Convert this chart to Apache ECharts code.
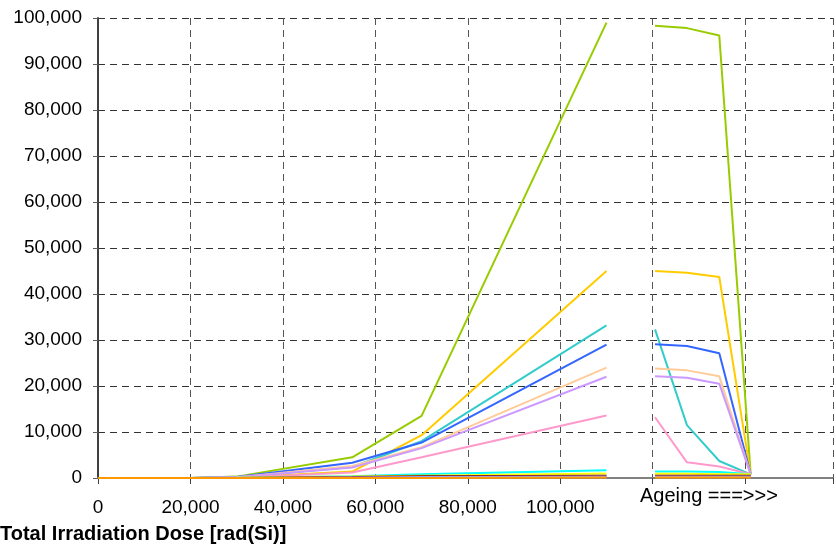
<!DOCTYPE html>
<html>
  <head>
    <meta charset="utf-8">
    <title>Total Irradiation Dose</title>
    <script src="https://cdn.jsdelivr.net/npm/echarts@6/dist/echarts.min.js"></script>
    <style>
      html, body { margin: 0; padding: 0; background: #fff; }
      #chart { width: 836px; height: 548px; }
    </style>
  </head>
  <body>
    <div id="chart"></div>
    <script>
      // x positions of the irradiation steps and of the ageing steps
      var doseX = [0, 20000, 30000, 55000, 70000, 110000];
      var ageX = [120500, 127400, 134400, 141200];

      var seriesNames = ['S1', 'S2', 'S3', 'S4', 'S5', 'S6', 'S7', 'S8', 'S9', 'S10', 'S11', 'S12'];
      var seriesColors = ['#99cc00', '#ffcc00', '#33cccc', '#3366ff', '#ffcc99', '#cc99ff',
                          '#ff99cc', '#00ffff', '#ffff00', '#800000', '#9999ff', '#ff9900'];

      // values during irradiation (one per doseX)
      var doseVals = [
        [0, 0, 300, 4500, 13500, 99000],
        [0, 0, 100, 1400, 9300, 45000],
        [0, 0, 200, 2400, 8000, 33200],
        [0, 0, 200, 3300, 7700, 29000],
        [0, 0, 150, 2600, 6700, 24000],
        [0, 0, 150, 2300, 6500, 22000],
        [0, 0, 50, 1200, 4500, 13600],
        [0, 0, 50, 400, 800, 1700],
        [0, 0, 50, 300, 500, 1000],
        [0, 0, 0, 200, 400, 500],
        [0, 0, 0, 100, 200, 300],
        [0, 0, 0, 0, 0, 100]
      ];
      // values during ageing (one per ageX)
      var ageVals = [
        [98300, 97800, 96200, 800],
        [45000, 44600, 43700, 800],
        [32300, 11500, 3700, 800],
        [29100, 28700, 27100, 800],
        [23800, 23400, 22100, 800],
        [22100, 21800, 20500, 800],
        [13200, 3400, 2500, 800],
        [1400, 1400, 1300, 800],
        [900, 900, 800, 800],
        [500, 500, 500, 500],
        [300, 300, 300, 300],
        [100, 100, 100, 100]
      ];

      var yTicks = { min: 0, max: 100000, interval: 10000 };
      var xTicks = { min: 0, max: 159000, interval: 20000, lastLabel: 100000 };

      var fontFamily = '"Liberation Sans", Arial, sans-serif';

      var series = seriesNames.map(function (name, i) {
        var data = [];
        doseX.forEach(function (x, k) { data.push([x, doseVals[i][k]]); });
        data.push([115000, null]); // break between irradiation and ageing
        ageX.forEach(function (x, k) { data.push([x, ageVals[i][k]]); });
        return {
          name: name,
          type: 'line',
          data: data,
          showSymbol: false,
          symbol: 'none',
          connectNulls: false,
          lineStyle: { color: seriesColors[i], width: 2 },
          itemStyle: { color: seriesColors[i] },
          z: 3,
          animation: false
        };
      });

      var chart = echarts.init(document.getElementById('chart'));
      var option = {
        animation: false,
        backgroundColor: '#ffffff',
        title: {
          text: 'Total Irradiation Dose [rad(Si)]',
          left: 0,
          top: 524,
          padding: 0,
          textStyle: { fontFamily: fontFamily, fontSize: 20, fontWeight: 'bold', color: '#000' }
        },
        grid: {
          left: 98,
          top: 18,
          right: 0,
          bottom: 70
        },
        graphic: [{
          type: 'text',
          left: 640,
          top: 486,
          style: { text: 'Ageing ===>>>', font: '20px ' + fontFamily, fill: '#000' }
        }],
        xAxis: [{
          type: 'value',
          min: xTicks.min,
          max: xTicks.max,
          interval: xTicks.interval,
          axisLine: { show: true, onZero: false, lineStyle: { color: '#404040', width: 2 } },
          axisTick: { show: true, inside: false, length: 6, lineStyle: { color: '#404040' } },
          axisLabel: {
            margin: 20,
            color: '#000',
            fontFamily: fontFamily,
            fontSize: 19,
            formatter: function (v) {
              return v <= xTicks.lastLabel ? v.toLocaleString('en-US') : '';
            }
          },
          splitLine: { show: true, lineStyle: { color: '#555', type: [7, 5], width: 1 } }
        }, {
          // plot frame on top
          type: 'value',
          position: 'top',
          min: xTicks.min,
          max: xTicks.max,
          axisLine: { show: true, lineStyle: { color: '#808080', width: 2 } },
          axisTick: { show: false },
          axisLabel: { show: false },
          splitLine: { show: false }
        }],
        yAxis: {
          type: 'value',
          min: yTicks.min,
          max: yTicks.max,
          interval: yTicks.interval,
          axisLine: { show: true, lineStyle: { color: '#404040', width: 2 } },
          axisTick: { show: true, inside: false, length: 5, lineStyle: { color: '#606060' } },
          axisLabel: {
            margin: 16,
            color: '#000',
            fontFamily: fontFamily,
            fontSize: 19,
            formatter: function (v) { return v.toLocaleString('en-US'); }
          },
          splitLine: { show: true, lineStyle: { color: '#333', type: [7, 5], width: 1 } }
        },
        series: series
      };
      chart.setOption(option);
    </script>
  </body>
</html>
